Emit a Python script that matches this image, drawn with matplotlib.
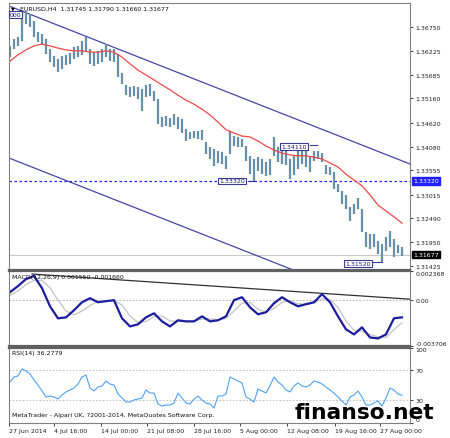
import numpy as np
import matplotlib
matplotlib.use('Agg')
import matplotlib.pyplot as plt

# EURUSD H4 bars (one bar every ~4 px)
bar_high = [1.3633, 1.3648, 1.3653, 1.3708, 1.3711, 1.3704, 1.3688, 1.3664, 1.3659, 1.3648,
            1.3626, 1.3610, 1.3604, 1.3610, 1.3613, 1.3617, 1.3630, 1.3633, 1.3644, 1.3653,
            1.3626, 1.3619, 1.3622, 1.3626, 1.3637, 1.3626, 1.3626, 1.3615, 1.3573, 1.3546,
            1.3541, 1.3544, 1.3541, 1.3537, 1.3546, 1.3548, 1.3532, 1.3515, 1.3474, 1.3477,
            1.3472, 1.3481, 1.3474, 1.3470, 1.3448, 1.3441, 1.3443, 1.3443, 1.3446, 1.3419,
            1.3408, 1.3403, 1.3399, 1.3396, 1.3388, 1.3443, 1.3432, 1.3430, 1.3425, 1.3410,
            1.3388, 1.3381, 1.3385, 1.3381, 1.3374, 1.3381, 1.3430, 1.3408, 1.3403, 1.3399,
            1.3381, 1.3388, 1.3399, 1.3410, 1.3403, 1.3388, 1.3399, 1.3399, 1.3394, 1.3368,
            1.3363, 1.3352, 1.3325, 1.3310, 1.3301, 1.3274, 1.3281, 1.3294, 1.3270, 1.3218,
            1.3214, 1.3214, 1.3198, 1.3192, 1.3207, 1.3221, 1.3203, 1.3189, 1.3185]
bar_low = [1.3608, 1.3626, 1.3633, 1.3644, 1.3682, 1.3675, 1.3653, 1.3642, 1.3637, 1.3615,
           1.3597, 1.3586, 1.3575, 1.3581, 1.3590, 1.3593, 1.3604, 1.3608, 1.3613, 1.3622,
           1.3593, 1.3588, 1.3593, 1.3597, 1.3608, 1.3599, 1.3597, 1.3564, 1.3548, 1.3523,
           1.3519, 1.3521, 1.3515, 1.3488, 1.3519, 1.3521, 1.3510, 1.3459, 1.3452, 1.3454,
           1.3452, 1.3457, 1.3448, 1.3439, 1.3421, 1.3425, 1.3428, 1.3425, 1.3423, 1.3392,
           1.3381, 1.3365, 1.3372, 1.3370, 1.3359, 1.3392, 1.3410, 1.3408, 1.3408, 1.3376,
           1.3347, 1.3332, 1.3354, 1.3347, 1.3343, 1.3345, 1.3388, 1.3374, 1.3370, 1.3368,
           1.3336, 1.3345, 1.3359, 1.3370, 1.3363, 1.3352, 1.3376, 1.3381, 1.3374, 1.3347,
           1.3345, 1.3314, 1.3307, 1.3281, 1.3270, 1.3243, 1.3258, 1.3270, 1.3218, 1.3185,
           1.3180, 1.3185, 1.3169, 1.3152, 1.3176, 1.3185, 1.3163, 1.3172, 1.3165]

# red moving average, every second bar
ma_line = [1.3599, 1.3613, 1.3624, 1.3633, 1.3637, 1.3633, 1.3628, 1.3624, 1.3622, 1.3622,
           1.3619, 1.3619, 1.3622, 1.3619, 1.3608, 1.3593, 1.3579, 1.3568, 1.3557, 1.3546,
           1.3535, 1.3523, 1.3512, 1.3503, 1.3492, 1.3479, 1.3463, 1.3446, 1.3439, 1.3432,
           1.3430, 1.3421, 1.3410, 1.3401, 1.3394, 1.3390, 1.3388, 1.3388, 1.3385, 1.3381,
           1.3372, 1.3363, 1.3347, 1.3334, 1.3321, 1.3301, 1.3278, 1.3265, 1.3252, 1.3238]

# MACD main and signal, every second bar
macd_main = [0.00064, 0.00114, 0.00171, 0.00196, 0.00097, -0.00051, -0.00149, -0.00141, -0.00083, -0.00018,
             0.00015, -0.00018, -0.00009, -0.00001, -0.00149, -0.00215, -0.00198, -0.00141, -0.00108, -0.00174,
             -0.00215, -0.00165, -0.00174, -0.00174, -0.00133, -0.00174, -0.00165, -0.00133, -0.00001, 0.00023,
             -0.00059, -0.00116, -0.00100, -0.00026, 0.00023, -0.00018, -0.00051, -0.00034, -0.00018, 0.00048,
             -0.00018, -0.00133, -0.00239, -0.00280, -0.00223, -0.00305, -0.00313, -0.00280, -0.00149, -0.00141]
macd_signal = [0.00040, 0.00075, 0.00125, 0.00160, 0.00160, 0.00100, 0.00000, -0.00090, -0.00120, -0.00090,
               -0.00045, -0.00010, -0.00010, -0.00005, -0.00040, -0.00130, -0.00185, -0.00175, -0.00135, -0.00130,
               -0.00170, -0.00175, -0.00170, -0.00172, -0.00155, -0.00155, -0.00160, -0.00150, -0.00090, -0.00025,
               -0.00020, -0.00075, -0.00100, -0.00070, -0.00020, -0.00005, -0.00030, -0.00035, -0.00025, 0.00010,
               0.00005, -0.00060, -0.00170, -0.00245, -0.00255, -0.00280, -0.00300, -0.00305, -0.00240, -0.00185]

# RSI(14), one value per bar
rsi_line = [54.0, 60.7, 62.0, 71.3, 68.7, 64.7, 56.7, 50.0, 42.0, 34.0,
            35.3, 34.0, 31.3, 36.7, 40.7, 43.3, 46.0, 51.3, 60.7, 63.3,
            46.0, 42.0, 47.3, 48.7, 55.3, 51.3, 50.0, 38.0, 32.7, 27.3,
            27.3, 30.0, 31.3, 32.7, 43.3, 39.3, 39.3, 24.7, 22.0, 23.3,
            23.3, 26.0, 39.3, 32.7, 26.0, 24.7, 31.3, 35.3, 30.0, 26.0,
            24.7, 19.3, 35.3, 35.3, 38.0, 60.7, 58.0, 55.3, 52.7, 34.0,
            31.3, 27.3, 44.7, 42.0, 39.3, 48.7, 60.7, 54.0, 50.0, 43.3,
            40.7, 48.7, 52.7, 48.7, 47.3, 50.0, 55.3, 54.0, 51.3, 47.3,
            43.3, 39.3, 34.0, 28.7, 23.3, 34.0, 36.7, 42.0, 34.0, 23.3,
            23.3, 26.0, 28.7, 22.0, 32.7, 46.0, 43.3, 38.0, 36.3]

price_ticks = [1.36750, 1.36225, 1.35685, 1.35160, 1.34620, 1.34080,
               1.33555, 1.33015, 1.32490, 1.31950, 1.31425]
time_labels = ['27 Jun 2014', '4 Jul 16:00', '14 Jul 00:00', '21 Jul 08:00', '28 Jul 16:00',
               '5 Aug 00:00', '12 Aug 08:00', '19 Aug 16:00', '27 Aug 00:00']
time_pos = [-0.25, 11.0, 22.75, 34.25, 46.0, 57.5, 69.25, 81.25, 92.5]

# channel trend lines (start, end) in bar index / price
upper_chan = ([-0.25, 100], [1.37218, 1.33698])
lower_chan = ([-0.25, 100], [1.33831, 1.30311])
macd_trend = ([5.5, 100], [0.00212, 0.00007])

level_price = 1.33320
last_price = 1.31677

W, H = 450, 439
fig = plt.figure(figsize=(W / 100, H / 100), dpi=100)
fig.patch.set_facecolor('white')


def px_axes(x0, y0, x1, y1):
    return fig.add_axes([x0 / W, 1 - y1 / H, (x1 - x0) / W, (y1 - y0) / H])


ax = px_axes(9, 4, 410, 270.5)
ax_macd = px_axes(9, 272, 410, 346.5)
ax_rsi = px_axes(9, 348.5, 410, 423.5)

fs = 4.5
for a in (ax, ax_macd, ax_rsi):
    a.set_xlim(-0.25, 100)
    for s in a.spines.values():
        s.set_color('#808080')
        s.set_linewidth(0.8)
    a.tick_params(axis='y', left=False, labelleft=False, right=True, labelright=True,
                  direction='out', length=2.5, width=0.6, pad=1.5, labelsize=fs, colors='#202020')
    a.tick_params(axis='x', bottom=False, labelbottom=False)
ax.spines['bottom'].set_linewidth(1.6)
ax.spines['bottom'].set_color('#606060')
ax_macd.spines['top'].set_linewidth(1.6)
ax_macd.spines['top'].set_color('#606060')
ax_macd.spines['bottom'].set_linewidth(1.6)
ax_macd.spines['bottom'].set_color('#606060')
ax_rsi.spines['top'].set_linewidth(1.6)
ax_rsi.spines['top'].set_color('#606060')

# ---- main price window
bar_x = np.arange(len(bar_high))
ma_x = np.arange(0, len(bar_high), 2)
ax.set_ylim(1.31347, 1.37285)
ax.axhline(last_price, color='#c8c8c8', lw=0.8)
ax.axhline(level_price, color='#2020ff', lw=0.9, ls=(0, (2, 2)))
ax.plot(upper_chan[0], upper_chan[1], color='#4646a8', lw=0.9)
ax.plot(lower_chan[0], lower_chan[1], color='#4646a8', lw=0.9)
ax.vlines(bar_x, bar_low, bar_high, color='#6690a7', lw=1.6)
ax.plot(ma_x, ma_line, color='#f04848', lw=0.9)

ax.set_yticks(price_ticks)
ax.set_yticklabels(['%.5f' % p for p in price_ticks])

box = dict(boxstyle='square,pad=0.15', fc='white', ec='#3a3a9a', lw=0.8)
ax.text(71, 1.3408, '1.34110', fontsize=fs, color='#1a1a7a', ha='center', va='center', bbox=box)
ax.plot([75, 76.75], [1.3411, 1.3411], color='#3a3a9a', lw=0.8)
ax.text(55.5, 1.3332, '1.33320', fontsize=fs, color='#1a1a7a', ha='center', va='center', bbox=box)
ax.plot([59.5, 61], [1.3332, 1.3332], color='#3a3a9a', lw=0.8)
ax.text(87, 1.3149, '1.31520', fontsize=fs, color='#1a1a7a', ha='center', va='center', bbox=box)
ax.plot([90.75, 93], [1.3152, 1.3152], color='#3a3a9a', lw=0.8)
ax.text(-0.1, 1.3703, '000', fontsize=fs, color='#1a1a7a', ha='left', va='center', bbox=box)

ax.text(1.0075, level_price, '1.33320', transform=ax.get_yaxis_transform(), fontsize=fs,
        color='white', ha='left', va='center', clip_on=False,
        bbox=dict(boxstyle='square,pad=0.2', fc='#2020ff', ec='#2020ff'))
ax.text(1.0075, last_price, '1.31677', transform=ax.get_yaxis_transform(), fontsize=fs,
        color='white', ha='left', va='center', clip_on=False,
        bbox=dict(boxstyle='square,pad=0.2', fc='black', ec='black'))

ax.text(0.004, 0.981, '\u25bc', transform=ax.transAxes, fontsize=3.5, ha='left', va='center')
ax.text(0.027, 0.981, 'EURUSD,H4  1.31745 1.31790 1.31660 1.31677', transform=ax.transAxes,
        fontsize=fs, ha='left', va='center', color='#101010')

# ---- MACD window
ax_macd.set_ylim(-0.003706, 0.002368)
ax_macd.axhline(0, color='#a8a8a8', lw=0.6, ls=(0, (2, 2)))
ax_macd.plot(macd_trend[0], macd_trend[1], color='#303030', lw=0.9)
ax_macd.plot(ma_x, macd_signal, color='#c4c4c4', lw=0.9)
ax_macd.plot(ma_x, macd_main, color='#1c1ca0', lw=1.6)
ax_macd.set_yticks([0.002368, 0.0, -0.003706])
ax_macd.set_yticklabels(['0.002368', '0.00', '-0.003706'])
ax_macd.text(0.0075, 0.92, 'MACD(12,26,9) 0.001550 -0.001660', transform=ax_macd.transAxes,
             fontsize=fs, ha='left', va='center', color='#101010')

# ---- RSI window
ax_rsi.set_ylim(0, 100)
for lvl in (70, 30):
    ax_rsi.axhline(lvl, color='#b8b8b8', lw=0.6, ls=(0, (2, 2)))
ax_rsi.plot(bar_x, rsi_line, color='#4da3f5', lw=0.8)
ax_rsi.set_yticks([100, 70, 30, 0])
ax_rsi.set_yticklabels(['100', '70', '30', '0'])
ax_rsi.text(0.0075, 0.927, 'RSI(14) 36.2779', transform=ax_rsi.transAxes,
            fontsize=fs, ha='left', va='center', color='#101010')
ax_rsi.text(0.0075, 0.1, 'MetaTrader - Alpari UK, ?2001-2014, MetaQuotes Software Corp.',
            transform=ax_rsi.transAxes, fontsize=fs, ha='left', va='center', color='#101010')
ax_rsi.set_xticks(time_pos)
ax_rsi.set_xticklabels(time_labels, ha='left')
ax_rsi.tick_params(axis='x', bottom=True, labelbottom=True, direction='out', length=2.5,
                   width=0.6, pad=1.5, labelsize=fs, colors='#202020')

# edge labels sit inside the window like in MetaTrader
for a in (ax_macd, ax_rsi):
    ticks = a.yaxis.get_major_ticks()
    ticks[0].label2.set_va('top')
    ticks[-1].label2.set_va('bottom')

# watermark drawn over the chart, as in the screenshot
fig.text(295 / W, 1 - 419 / H, 'finanso.net', fontsize=15.7, fontweight='bold',
         family='DejaVu Sans', ha='left', va='baseline', color='black')

fig.savefig('out.png', dpi=100)
